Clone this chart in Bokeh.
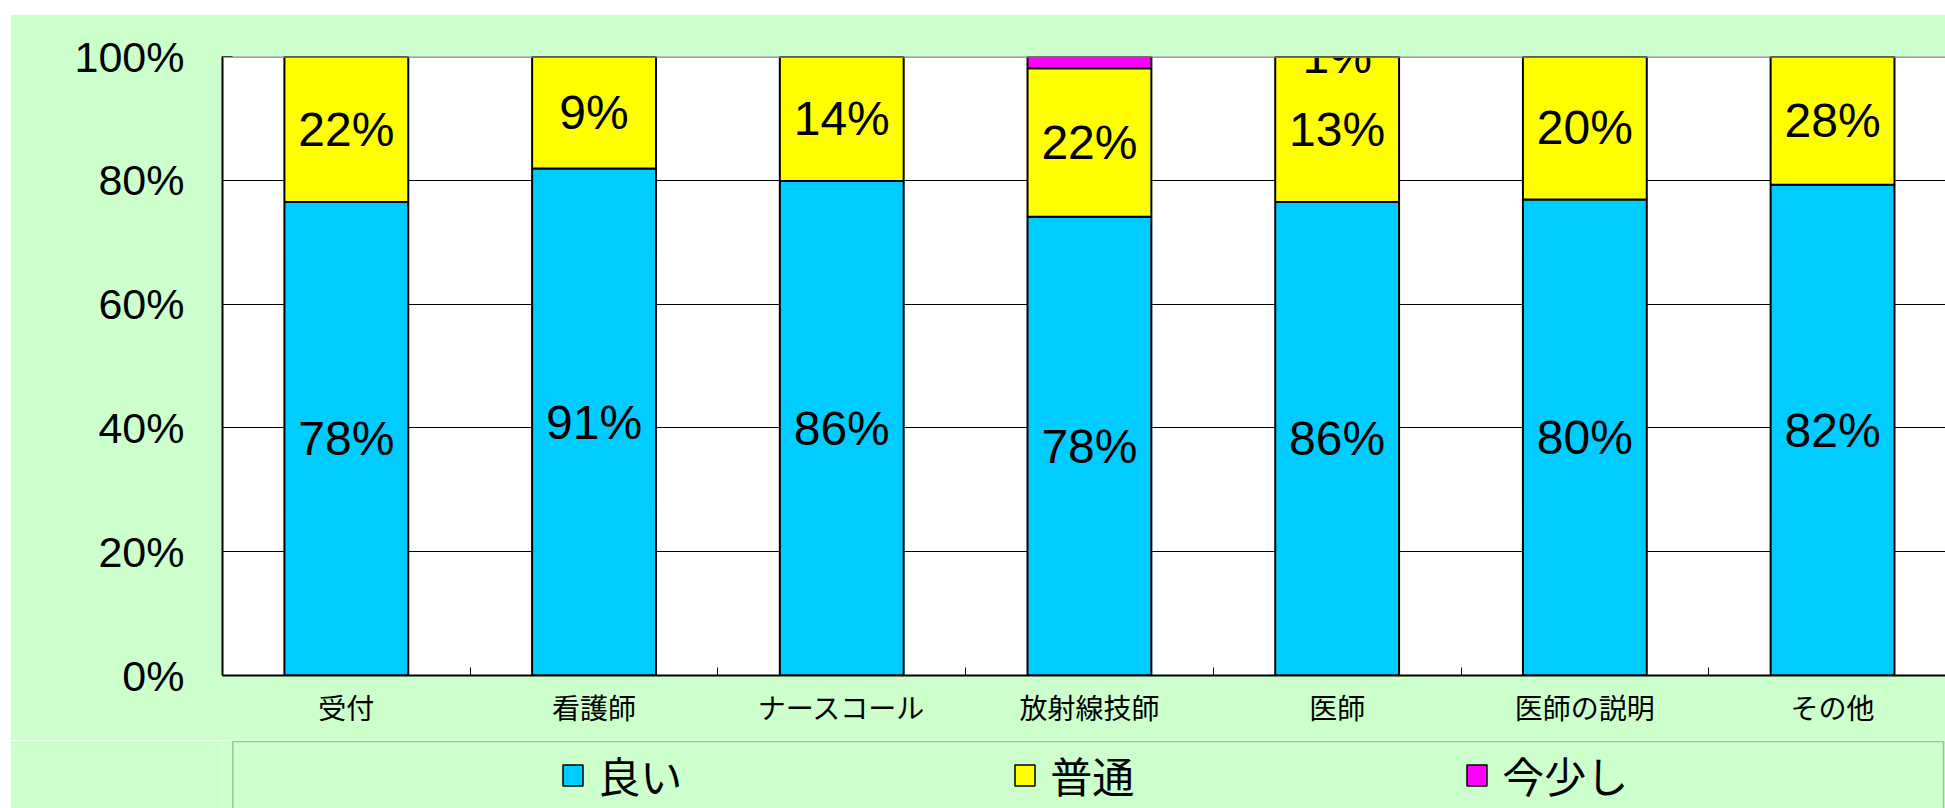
from bokeh.plotting import figure
from bokeh.models import (ColumnDataSource, FixedTicker, Span, Legend, LegendItem, Range1d,
                          BoxAnnotation)
from bokeh.layouts import column
from bokeh.embed import file_html
from bokeh.resources import INLINE
from bokeh.core.properties import value

# ---- data ----
categories = ["受付", "看護師", "ナースコール", "放射線技師", "医師", "医師の説明", "その他"]
series = ["良い", "普通", "今少し"]
good = [76.5, 81.9, 79.9, 74.1, 76.5, 76.9, 79.3]
fair = [23.5, 18.1, 20.1, 24.0, 23.5, 23.1, 20.7]
bit = [0.0, 0.0, 0.0, 1.9, 0.0, 0.0, 0.0]
good_labels = ["78%", "91%", "86%", "78%", "86%", "80%", "82%"]
fair_labels = ["22%", "9%", "14%", "22%", "13%", "20%", "28%"]
bit_labels = ["", "", "", "", "1%", "", ""]
y_ticks = [0, 20, 40, 60, 80, 100]
y_tick_labels = ["0%", "20%", "40%", "60%", "80%", "100%"]
colors = ["#00CCFF", "#FFFF00", "#FF00FF"]
bg = "#CCFFCC"

xs = [i + 0.5 for i in range(len(categories))]

W = 1935
LEFT = 212
FW = W - LEFT                      # frame width in pixels
p = figure(width=W, height=726, x_range=Range1d(0, FW / 247.7), y_range=Range1d(0, 100),
           output_backend="svg", toolbar_location=None,
           min_border_left=LEFT, min_border_right=0, min_border_top=42, min_border_bottom=65,
           background_fill_color="white", border_fill_color=bg)
p.margin = (14, 0, 0, 10)
p.outline_line_color = None

src = ColumnDataSource(dict(x=xs, good=good, fair=fair, bit=bit))
p.vbar_stack(["good", "fair", "bit"], x="x", width=0.5, source=src,
             fill_color=colors, line_color="black", line_width=2)

# labels centred in segments
lx, ly, lt = [], [], []
for i in range(len(categories)):
    segs = [(good[i], good_labels[i]), (fair[i], fair_labels[i]), (bit[i], bit_labels[i])]
    base = 0.0
    for h, t in segs:
        if t:
            lx.append(xs[i]); ly.append(base + h / 2.0); lt.append(t)
        base += h
lsrc = ColumnDataSource(dict(x=lx, y=ly, t=lt))
p.text(x="x", y="y", text="t", source=lsrc, text_align="center", text_baseline="middle",
       text_font=value("Liberation Sans"), text_font_size="48px", text_color="black")

# axes
p.xaxis.ticker = FixedTicker(ticks=xs, minor_ticks=list(range(1, len(categories))))
p.xaxis.major_label_overrides = {x: c for x, c in zip(xs, categories)}
p.xaxis.major_tick_line_color = None
p.xaxis.minor_tick_in = 8
p.xaxis.minor_tick_out = 0
p.xaxis.minor_tick_line_color = "black"
p.xaxis.axis_line_color = "black"
p.xaxis.axis_line_width = 2
p.xaxis.major_label_text_font = "Noto Sans CJK JP"
p.xaxis.major_label_text_font_size = "28px"
p.xaxis.major_label_text_color = "black"
p.xaxis.major_label_standoff = 5

p.yaxis.ticker = FixedTicker(ticks=y_ticks)
p.yaxis.major_label_overrides = {t: l for t, l in zip(y_ticks, y_tick_labels)}
p.yaxis.major_tick_in = 10
p.yaxis.major_tick_out = 0
p.yaxis.major_tick_line_color = "black"
p.yaxis.minor_tick_line_color = None
p.yaxis.axis_line_color = "black"
p.yaxis.axis_line_width = 2
p.yaxis.major_label_text_font = "Liberation Sans"
p.yaxis.major_label_text_font_size = "43px"
p.yaxis.major_label_text_color = "black"
p.yaxis.major_label_standoff = 38

p.xgrid.visible = False
p.ygrid.grid_line_color = "black"
p.ygrid.grid_line_width = 1
p.add_layout(Span(location=100, dimension="width", line_color="#808080", line_width=2.5))

# legend panel: frame aligned with the chart frame, 1 data unit = 1 pixel
PH = 68
pl = figure(width=W, height=PH, x_range=Range1d(0, FW), y_range=Range1d(0, PH),
            output_backend="svg", toolbar_location=None, x_axis_type=None, y_axis_type=None,
            min_border_left=LEFT, min_border_right=0, min_border_top=0, min_border_bottom=0,
            background_fill_color=bg, border_fill_color=bg)
pl.margin = (0, 0, 0, 10)
pl.outline_line_color = None
# legend box, open at the bottom (it runs past the window in the original)
pl.add_layout(BoxAnnotation(left=10.3, right=FW - 2, top=PH - 1, bottom=-PH,
                            fill_alpha=0, line_color="#333333", line_width=1.5))

items = []
for name, c in zip(series, colors):
    r = pl.vbar(x=[float("nan")], top=[float("nan")], width=1, fill_color=c,
                line_color="black", line_width=1.5)
    items.append(LegendItem(label=name, renderers=[r]))
leg = Legend(items=items, location=(338.2, 3), orientation="horizontal",
             border_line_color=None, background_fill_alpha=0, padding=0, margin=0,
             spacing=0, glyph_width=25, glyph_height=26, label_standoff=13,
             label_width=414, label_height=40,
             label_text_font="Noto Sans CJK JP", label_text_font_size="42px",
             label_text_color="black")
pl.add_layout(leg)

layout = column(p, pl)
open("out.html", "w").write(file_html(layout, INLINE))
